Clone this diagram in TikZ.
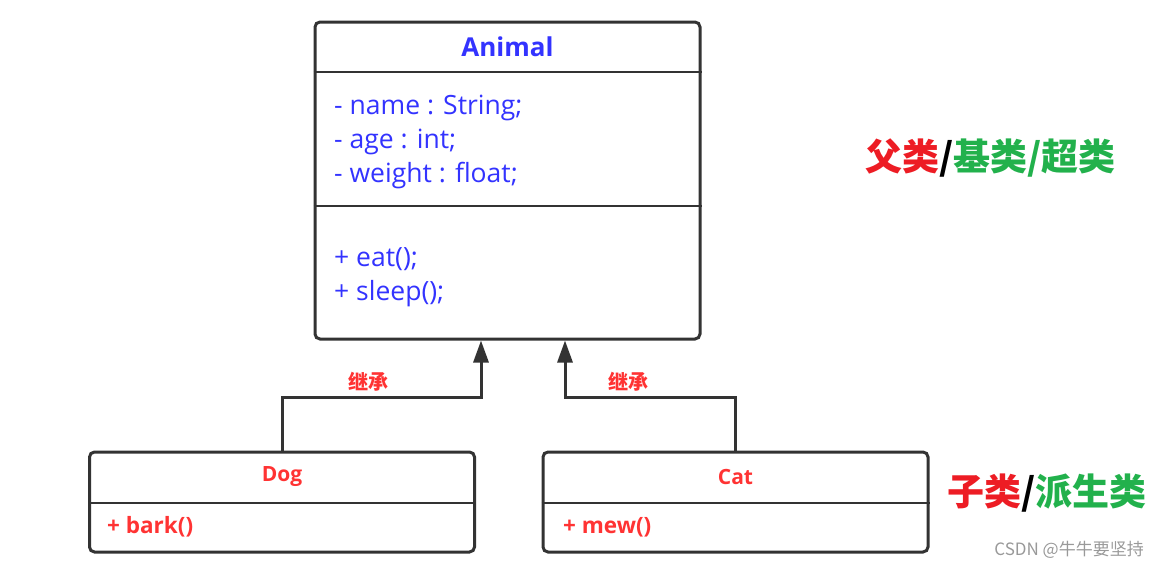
\documentclass[tikz,border=0pt]{standalone}
\usepackage{fontspec}
\setmainfont{Open Sans}
\newfontfamily\cjk{Noto Sans CJK SC}
\usetikzlibrary{arrows.meta,positioning}

\definecolor{umlblue}{RGB}{51,51,255}
\definecolor{umlred}{RGB}{255,51,51}
\definecolor{tagred}{RGB}{237,28,36}
\definecolor{taggreen}{RGB}{34,177,76}
\definecolor{edgegray}{RGB}{51,51,51}

\begin{document}
\begin{tikzpicture}[
  x=1pt, y=-1pt,
  classbox/.style={draw=edgegray, line width=3pt, rounded corners=5pt,
                   minimum width=385pt, inner sep=0pt},
  sep/.style={draw=edgegray, line width=2.5pt},
  members/.style={anchor=west, align=left, inner sep=0pt,
                  font=\fontsize{26.5}{34}\selectfont, text=umlblue},
  title/.style={font=\fontsize{26}{30}\selectfont\bfseries, text=umlblue},
  subtitle/.style={font=\fontsize{21}{25}\selectfont\bfseries, text=umlred},
  submember/.style={anchor=west, inner sep=0pt,
                    font=\fontsize{22.5}{25}\selectfont\bfseries, text=umlred},
  inherit/.style={draw=edgegray, line width=3pt,
                  -{Triangle[length=22pt, width=15pt]}},
  lbl/.style={font=\cjk\fontsize{20}{24}\selectfont\bfseries, text=umlred},
  tag/.style={anchor=west, inner sep=0pt,
              font=\cjk\fontsize{37}{40}\selectfont\bfseries}
]
  \useasboundingbox (0,0) rectangle (1159,570);

  % parent class
  \node[classbox, minimum height=317pt] (animal) at (507.5,180.5) {};
  \draw[sep] (animal.west |- 0,72) -- (animal.east |- 0,72);
  \draw[sep] (animal.west |- 0,206) -- (animal.east |- 0,206);
  \node[title] (animalName) at (507.5,47) {Animal};
  \node[members] (attrs) at (334,142) {- name : String;\\- age : int;\\- weight : float;};
  \node[members] (meths) at (334,277.5) {+ eat();\\+ sleep();};

  % child classes
  \node[classbox, minimum height=100pt] (dog) at (282,502) {};
  \draw[sep] (dog.west |- 0,503) -- (dog.east |- 0,503);
  \node[subtitle] (dogName) at (282,477) {Dog};
  \node[submember] (dogMeth) at (107,527) {+ bark()};

  \node[classbox, minimum height=100pt] (cat) at (735.5,502) {};
  \draw[sep] (cat.west |- 0,503) -- (cat.east |- 0,503);
  \node[subtitle] (catName) at (735.5,477) {Cat};
  \node[submember] (catMeth) at (563,527) {+ mew()};

  % inheritance
  \coordinate (dogTip) at ([xshift=-26.5pt]animal.south);
  \coordinate (catTip) at ([xshift=57.5pt]animal.south);
  \draw[inherit] (dog.north) |- (dogTip |- 0,397) -- (dogTip);
  \draw[inherit] (cat.north) |- (catTip |- 0,397) -- (catTip);
  \node[lbl] (dogInh) at (368,382) {继承};
  \node[lbl] (catInh) at (628,382) {继承};

  % side tags
  \node[tag] (parentTag) at (865,158)
    {\textcolor{tagred}{父类}/\textcolor{taggreen}{基类/超类}};
  \node[tag] (childTag) at (947,493)
    {\textcolor{tagred}{子类}/\textcolor{taggreen}{派生类}};
  \node[anchor=east, inner sep=0pt, text=gray!80,
        font=\cjk\fontsize{17}{20}\selectfont] (mark) at (1144,550)
    {CSDN @牛牛要坚持};
\end{tikzpicture}
\end{document}
